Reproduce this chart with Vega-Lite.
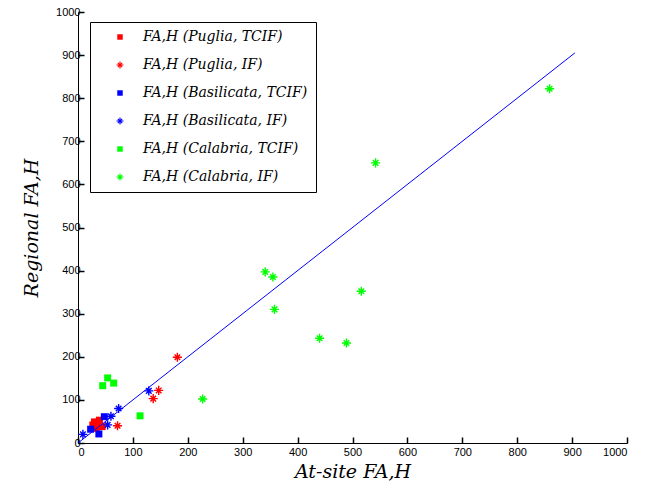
{
  "$schema": "https://vega.github.io/schema/vega-lite/v6.json",
  "width": 549,
  "height": 431,
  "autosize": "none",
  "padding": {"left": 78, "top": 12, "right": 19, "bottom": 55},
  "background": "white",
  "config": {
    "view": {"stroke": null},
    "axis": {
      "domainColor": "#000000",
      "domainWidth": 1,
      "tickColor": "#000000",
      "tickSize": -6,
      "tickWidth": 1.5,
      "labelColor": "#000000",
      "labelFont": "Liberation Sans",
      "labelFontSize": 11,
      "labelPadding": 4,
      "grid": false,
      "format": "d",
      "titleFont": "DejaVu Serif",
      "titleFontStyle": "italic",
      "titleFontWeight": "normal",
      "titleFontSize": 19,
      "titleColor": "#000000"
    },
    "legend": {
      "orient": "none",
      "legendX": 12,
      "legendY": 10,
      "strokeColor": "#000000",
      "fillColor": "#ffffff",
      "padding": 8,
      "symbolOffset": 15,
      "labelFont": "DejaVu Serif",
      "labelFontStyle": "italic",
      "labelFontSize": 14,
      "labelColor": "#000000",
      "labelOffset": 16,
      "rowPadding": 14,
      "symbolSize": 30,
      "symbolStrokeWidth": 0,
      "labelLimit": 400
    }
  },
  "layer": [
    {
      "data": {
        "values": [
          {"x": 30, "y": 49, "series": "FA,H (Puglia, TCIF)"},
          {"x": 39, "y": 53, "series": "FA,H (Puglia, TCIF)"},
          {"x": 33, "y": 34, "series": "FA,H (Puglia, TCIF)"},
          {"x": 44, "y": 38, "series": "FA,H (Puglia, TCIF)"},
          {"x": 27, "y": 42, "series": "FA,H (Puglia, TCIF)"},
          {"x": 36, "y": 45, "series": "FA,H (Puglia, TCIF)"},
          {"x": 181, "y": 199, "series": "FA,H (Puglia, IF)"},
          {"x": 147, "y": 122, "series": "FA,H (Puglia, IF)"},
          {"x": 137, "y": 103, "series": "FA,H (Puglia, IF)"},
          {"x": 72, "y": 40, "series": "FA,H (Puglia, IF)"},
          {"x": 48, "y": 61, "series": "FA,H (Basilicata, TCIF)"},
          {"x": 23, "y": 32, "series": "FA,H (Basilicata, TCIF)"},
          {"x": 38, "y": 21, "series": "FA,H (Basilicata, TCIF)"},
          {"x": 129, "y": 121, "series": "FA,H (Basilicata, IF)"},
          {"x": 74, "y": 80, "series": "FA,H (Basilicata, IF)"},
          {"x": 60, "y": 62, "series": "FA,H (Basilicata, IF)"},
          {"x": 54, "y": 42, "series": "FA,H (Basilicata, IF)"},
          {"x": 9, "y": 20, "series": "FA,H (Basilicata, IF)"},
          {"x": 45, "y": 133, "series": "FA,H (Calabria, TCIF)"},
          {"x": 54, "y": 151, "series": "FA,H (Calabria, TCIF)"},
          {"x": 65, "y": 139, "series": "FA,H (Calabria, TCIF)"},
          {"x": 113, "y": 63, "series": "FA,H (Calabria, TCIF)"},
          {"x": 859, "y": 822, "series": "FA,H (Calabria, IF)"},
          {"x": 542, "y": 650, "series": "FA,H (Calabria, IF)"},
          {"x": 341, "y": 397, "series": "FA,H (Calabria, IF)"},
          {"x": 355, "y": 385, "series": "FA,H (Calabria, IF)"},
          {"x": 358, "y": 310, "series": "FA,H (Calabria, IF)"},
          {"x": 516, "y": 352, "series": "FA,H (Calabria, IF)"},
          {"x": 440, "y": 243, "series": "FA,H (Calabria, IF)"},
          {"x": 489, "y": 232, "series": "FA,H (Calabria, IF)"},
          {"x": 227, "y": 102, "series": "FA,H (Calabria, IF)"}
        ]
      },
      "mark": {"type": "point", "filled": true, "opacity": 1, "size": 49},
      "encoding": {
        "x": {
          "field": "x",
          "type": "quantitative",
          "scale": {"domain": [0, 1000], "nice": false, "zero": false},
          "axis": {"values": [0, 100, 200, 300, 400, 500, 600, 700, 800, 900, 1000], "title": "At-site FA,H", "titlePadding": 5, "labelPadding": 9}
        },
        "y": {
          "field": "y",
          "type": "quantitative",
          "scale": {"domain": [0, 1000], "nice": false, "zero": false},
          "axis": {"values": [0, 100, 200, 300, 400, 500, 600, 700, 800, 900, 1000], "title": "Regional FA,H", "titlePadding": 14}
        },
        "color": {
          "field": "series",
          "type": "nominal",
          "scale": {
            "domain": ["FA,H (Puglia, TCIF)", "FA,H (Puglia, IF)", "FA,H (Basilicata, TCIF)", "FA,H (Basilicata, IF)", "FA,H (Calabria, TCIF)", "FA,H (Calabria, IF)"],
            "range": ["#ff0000", "#ff0000", "#0000ff", "#0000ff", "#00ff00", "#00ff00"]
          },
          "legend": {"title": null}
        },
        "shape": {
          "field": "series",
          "type": "nominal",
          "scale": {
            "domain": ["FA,H (Puglia, TCIF)", "FA,H (Puglia, IF)", "FA,H (Basilicata, TCIF)", "FA,H (Basilicata, IF)", "FA,H (Calabria, TCIF)", "FA,H (Calabria, IF)"],
            "range": [
              "square",
              "M-1.3,-0.2H1.3V0.2H-1.3Z M-0.2,-1.3H0.2V1.3H-0.2Z M-0.941,-0.659L-0.659,-0.941L0.941,0.659L0.659,0.941Z M-0.659,0.941L-0.941,0.659L0.659,-0.941L0.941,-0.659Z",
              "square",
              "M-1.3,-0.2H1.3V0.2H-1.3Z M-0.2,-1.3H0.2V1.3H-0.2Z M-0.941,-0.659L-0.659,-0.941L0.941,0.659L0.659,0.941Z M-0.659,0.941L-0.941,0.659L0.659,-0.941L0.941,-0.659Z",
              "square",
              "M-1.3,-0.2H1.3V0.2H-1.3Z M-0.2,-1.3H0.2V1.3H-0.2Z M-0.941,-0.659L-0.659,-0.941L0.941,0.659L0.659,0.941Z M-0.659,0.941L-0.941,0.659L0.659,-0.941L0.941,-0.659Z"
            ]
          },
          "legend": {"title": null}
        }
      }
    },
    {
      "data": {"values": [{"x": 0, "y": 0}, {"x": 905, "y": 905}]},
      "mark": {"type": "line", "color": "#0000ff", "strokeWidth": 1},
      "encoding": {
        "x": {"field": "x", "type": "quantitative"},
        "y": {"field": "y", "type": "quantitative"}
      }
    }
  ]
}
